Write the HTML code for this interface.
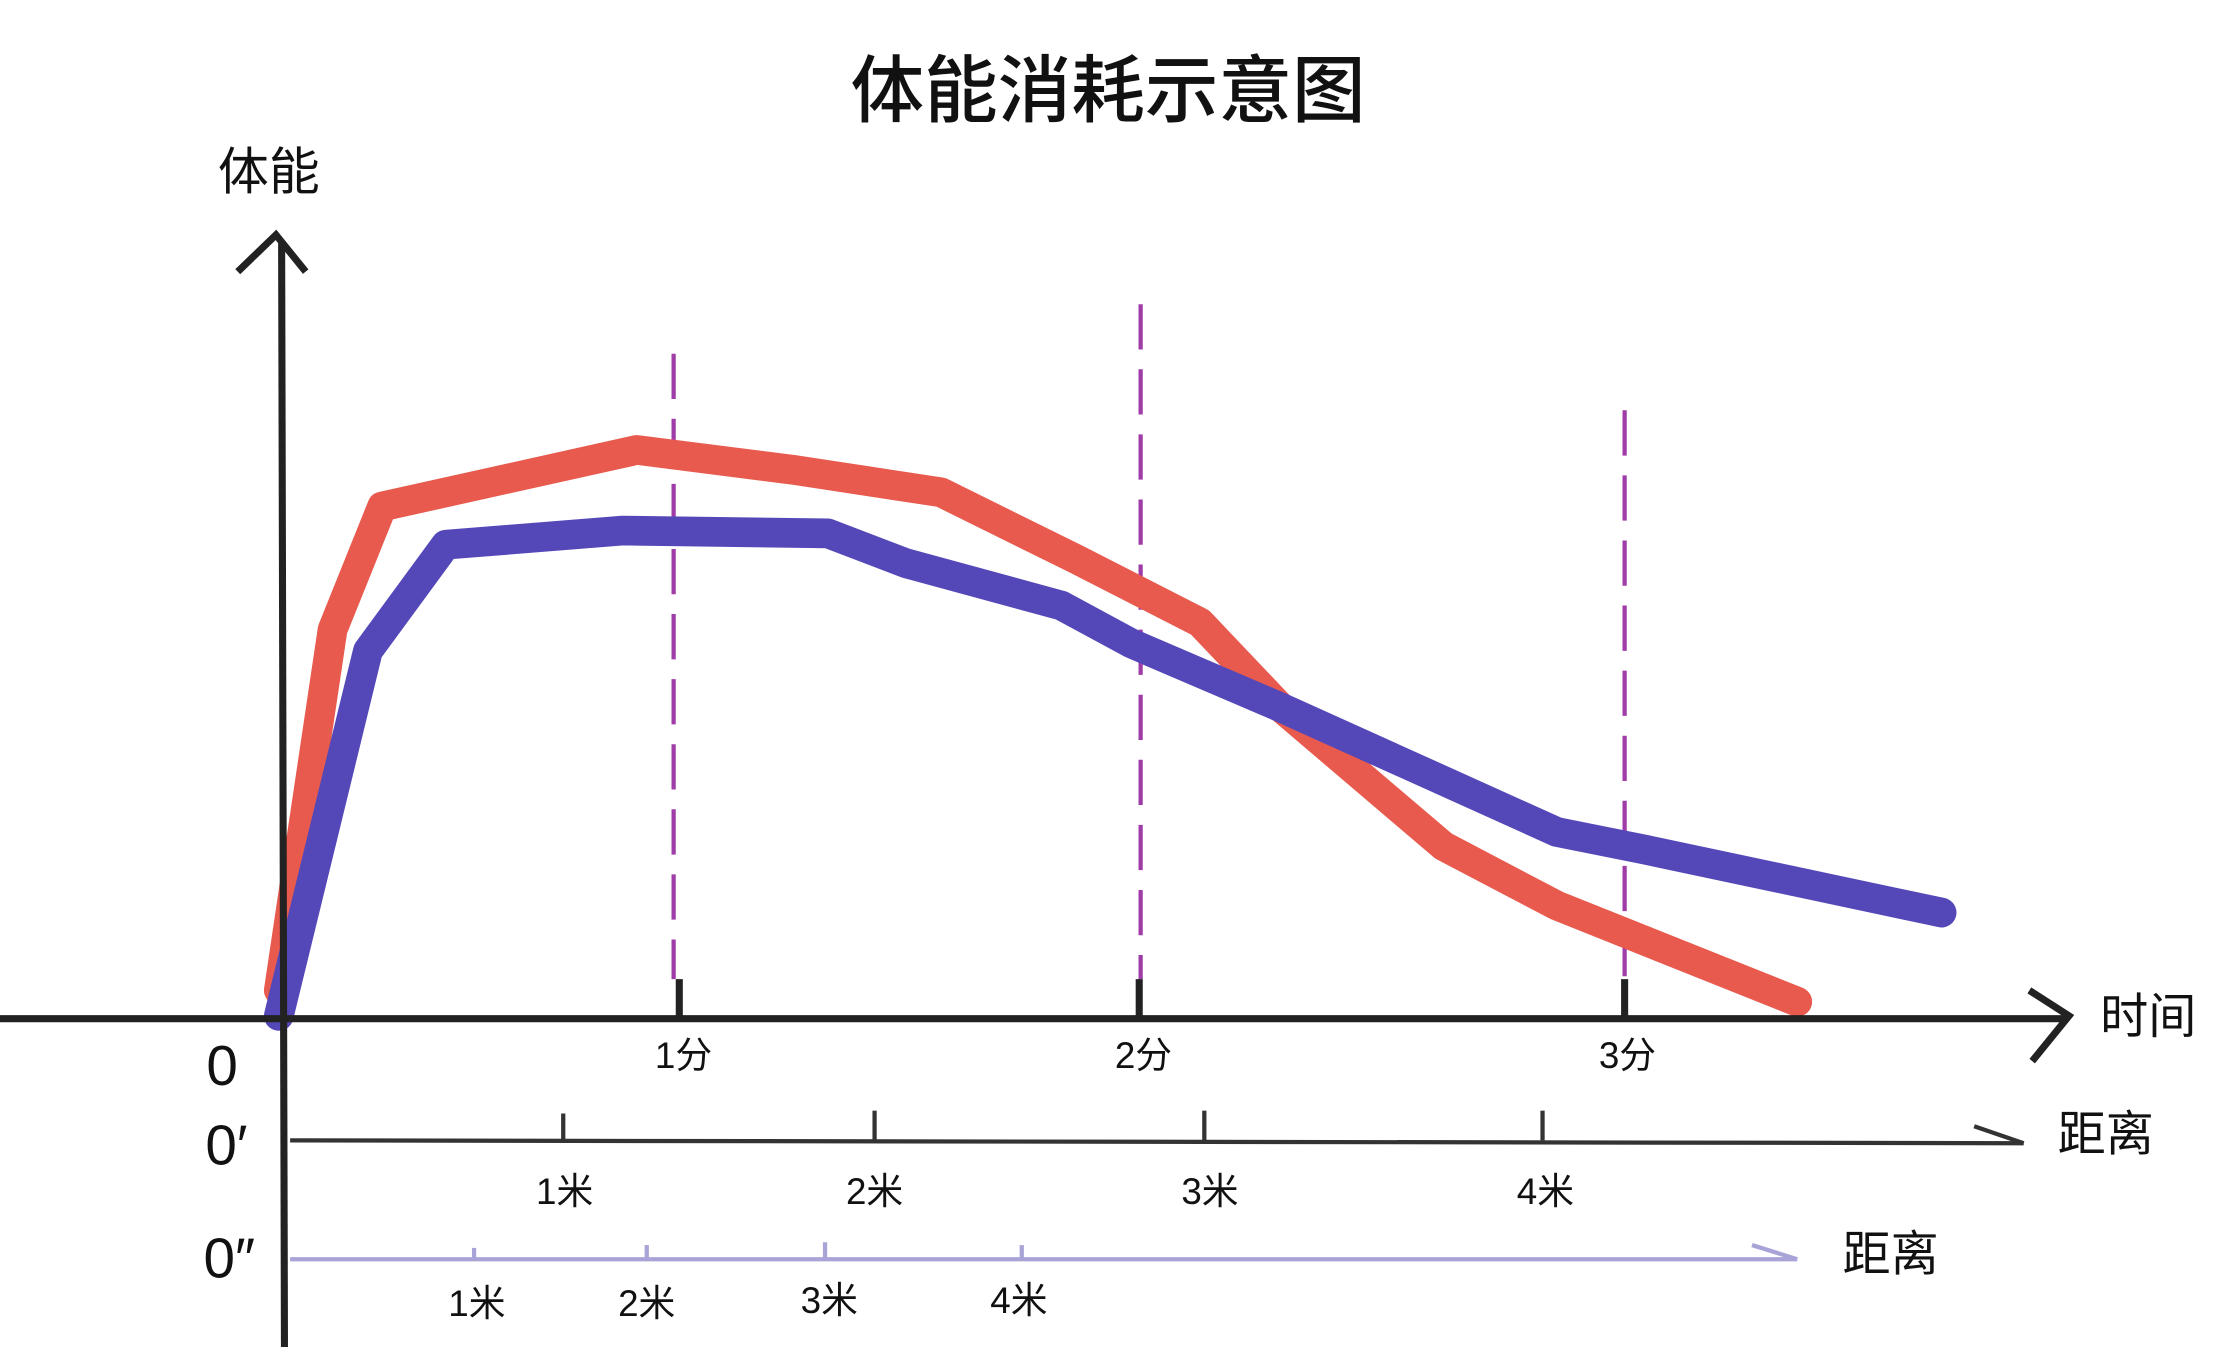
<!DOCTYPE html>
<html><head><meta charset="utf-8">
<style>
html,body{margin:0;padding:0;background:#fff;}
svg{display:block;}
text{font-family:"Liberation Sans","Noto Sans CJK SC",sans-serif;fill:#111;}
</style></head>
<body>
<svg width="2219" height="1371" viewBox="0 0 1568 969" preserveAspectRatio="none">
<rect width="1568" height="969" fill="#fff"/>
<text x="783" y="82" font-size="52" text-anchor="middle" font-weight="500" style="font-family:'Noto Sans CJK SC',sans-serif">体能消耗示意图</text>
<text x="190" y="134" font-size="36" text-anchor="middle" style="font-family:'Noto Sans CJK SC',sans-serif">体能</text>
<text x="1518" y="730" font-size="34" text-anchor="middle" style="font-family:'Noto Sans CJK SC',sans-serif">时间</text>
<g stroke="#a03ca8" stroke-width="3" stroke-dasharray="32,14">
<line x1="476" y1="250" x2="476" y2="692"/>
<line x1="806" y1="215" x2="806" y2="692"/>
<line x1="1148" y1="290" x2="1148" y2="692"/>
</g>
<polyline fill="none" stroke="#e85a4e" stroke-width="21" stroke-linejoin="round" stroke-linecap="round"
points="197,700 235,445 270,358 450,318 560,332 665,348 760,395 848,440 905,500 1020,598 1100,640 1270,708"/>
<polyline fill="none" stroke="#5448b8" stroke-width="21" stroke-linejoin="round" stroke-linecap="round"
points="197,718 260,460 315,385 440,375 585,377 640,398 750,428 800,455 905,500 1100,588 1160,600 1372,645"/>
<g stroke="#222" stroke-width="5" fill="none">
<line x1="199" y1="172" x2="201" y2="952"/>
<polyline points="168,192 195,166 216,192"/>
<line x1="0" y1="720" x2="1460" y2="720"/>
<polyline points="1434,700 1462,718 1436,750"/>
<line x1="480" y1="692" x2="480" y2="720"/>
<line x1="805" y1="692" x2="805" y2="720"/>
<line x1="1148" y1="692" x2="1148" y2="720"/>
</g>
<text x="483" y="755" font-size="26" text-anchor="middle">1分</text>
<text x="808" y="755" font-size="26" text-anchor="middle">2分</text>
<text x="1150" y="755" font-size="26" text-anchor="middle">3分</text>
<text x="157" y="767" font-size="40" text-anchor="middle">0</text>
<text x="160" y="823" font-size="40" text-anchor="middle">0′</text>
<text x="162" y="903" font-size="40" text-anchor="middle">0″</text>
<g stroke="#333" stroke-width="3">
<line x1="205" y1="806" x2="1430" y2="808"/>
<line x1="398" y1="787" x2="398" y2="806"/>
<line x1="618" y1="785" x2="618" y2="806"/>
<line x1="851" y1="785" x2="851" y2="806"/>
<line x1="1090" y1="785" x2="1090" y2="806"/>
<line x1="1395" y1="796" x2="1430" y2="808"/>
</g>
<text x="399" y="851" font-size="26" text-anchor="middle">1米</text>
<text x="618" y="851" font-size="26" text-anchor="middle">2米</text>
<text x="855" y="851" font-size="26" text-anchor="middle">3米</text>
<text x="1092" y="851" font-size="26" text-anchor="middle">4米</text>
<text x="1488" y="813" font-size="34" text-anchor="middle" style="font-family:'Noto Sans CJK SC',sans-serif">距离</text>
<g stroke="#a8a4d8" stroke-width="3">
<line x1="205" y1="890" x2="1270" y2="890"/>
<line x1="335" y1="882" x2="335" y2="890"/>
<line x1="457" y1="880" x2="457" y2="890"/>
<line x1="583" y1="878" x2="583" y2="890"/>
<line x1="722" y1="880" x2="722" y2="890"/>
<line x1="1238" y1="880" x2="1270" y2="890"/>
</g>
<text x="337" y="930" font-size="26" text-anchor="middle">1米</text>
<text x="457" y="930" font-size="26" text-anchor="middle">2米</text>
<text x="586" y="928" font-size="26" text-anchor="middle">3米</text>
<text x="720" y="928" font-size="26" text-anchor="middle">4米</text>
<text x="1336" y="898" font-size="34" text-anchor="middle" style="font-family:'Noto Sans CJK SC',sans-serif">距离</text>
</svg>
</body></html>
